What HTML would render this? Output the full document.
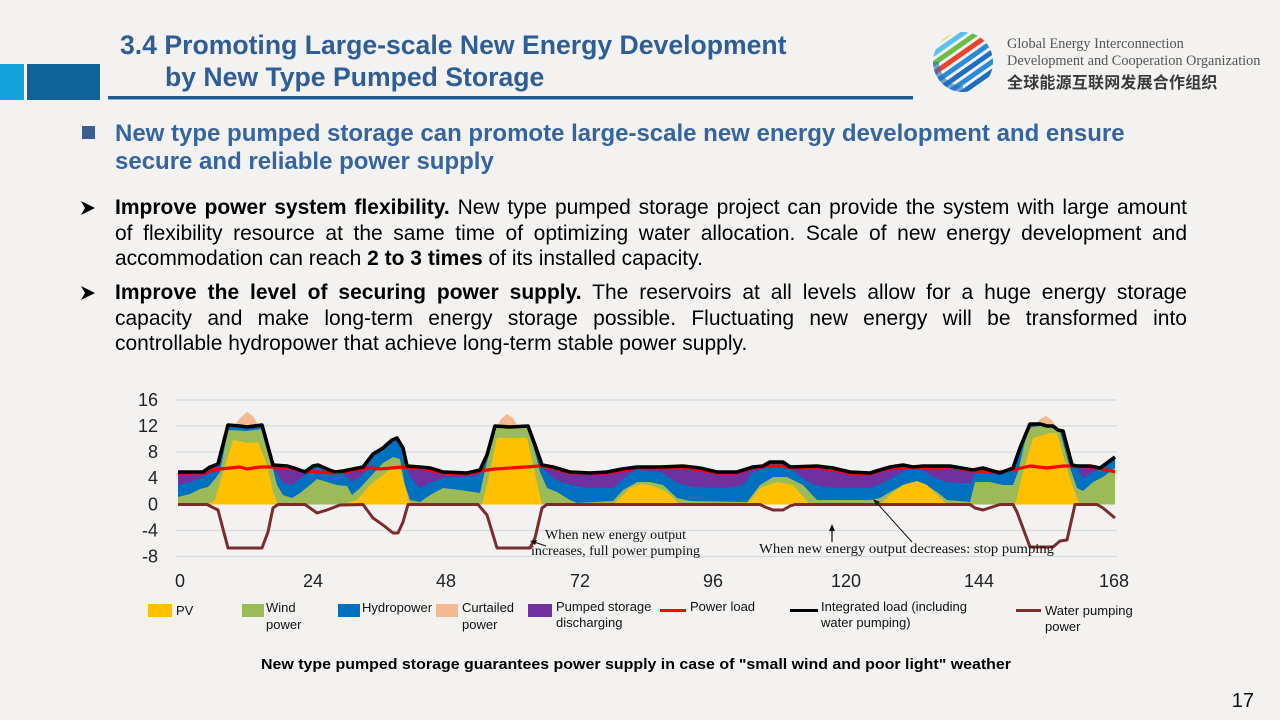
<!DOCTYPE html>
<html>
<head>
<meta charset="utf-8">
<style>
  html,body{margin:0;padding:0;}
  body{width:1280px;height:720px;position:relative;overflow:hidden;background:#F3F2F0;font-family:"Liberation Sans",Arial,sans-serif;}
  .abs{position:absolute;}
  .title{color:#2E5E95;font-weight:bold;font-size:26.6px;white-space:nowrap;line-height:30px;}
  .head{color:#3565A0;font-weight:bold;font-size:24px;white-space:nowrap;line-height:28px;}
  .para{left:115px;width:1072px;font-size:21px;color:#000;line-height:25.5px;}
  .jl{text-align:justify;text-align-last:justify;white-space:nowrap;height:25.5px;}
  .ll{white-space:nowrap;height:25.5px;}
</style>
</head>
<body>
<!-- header blocks -->
<div class="abs" style="left:0;top:64px;width:24px;height:36px;background:#15A3DB;"></div>
<div class="abs" style="left:27px;top:64px;width:73px;height:36px;background:#0F6399;"></div>
<div class="abs" style="left:108px;top:96px;width:805px;height:3px;background:#1F5A8C;"></div>
<div class="abs" style="left:108px;top:99px;width:805px;height:1px;background:#7FB4D8;"></div>
<div class="abs title" style="left:120px;top:30px;">3.4 Promoting Large-scale New Energy Development</div>
<div class="abs title" style="left:165px;top:62px;">by New Type Pumped Storage</div>

<!-- logo -->
<svg class="abs" style="left:926px;top:26px;" width="76" height="72" viewBox="0 0 76 72">
  <defs><clipPath id="gc"><circle cx="37" cy="36" r="30"/></clipPath></defs>
  <g clip-path="url(#gc)">
    <rect x="0" y="0" width="76" height="72" fill="#F3F2F0"/>
    <g transform="rotate(-35 37 36)">
      <rect x="-10" y="2" width="100" height="5" fill="#F2D400"/>
      <rect x="-10" y="10" width="100" height="5" fill="#5BC0EB"/>
      <rect x="-10" y="18" width="100" height="5" fill="#6BBE45"/>
      <rect x="-10" y="26" width="100" height="5" fill="#E8432E"/>
      <rect x="-10" y="34" width="100" height="5" fill="#2A8BD6"/>
      <rect x="-10" y="42" width="100" height="5" fill="#1E6FC0"/>
      <rect x="-10" y="50" width="100" height="5" fill="#2A8BD6"/>
      <rect x="-10" y="58" width="100" height="5" fill="#1E6FC0"/>
      <rect x="-10" y="66" width="100" height="5" fill="#2A8BD6"/>
    </g>
    <path d="M7,36 A30,30 0 0 0 37,66 L37,60 A24,24 0 0 1 13,36Z" fill="#1E6FC0" opacity="0.6"/>
  </g>
</svg>
<div class="abs" style="left:1007px;top:36px;font-family:'Liberation Serif',serif;font-size:14.3px;color:#555;white-space:nowrap;line-height:17px;">Global Energy Interconnection<br>Development and Cooperation Organization</div>
<div class="abs" style="left:1007px;top:69px;font-family:'Liberation Sans','Noto Sans CJK SC',sans-serif;font-size:16px;font-weight:bold;color:#3a3a3a;white-space:nowrap;letter-spacing:0.2px;">全球能源互联网发展合作组织</div>

<!-- heading bullet -->
<div class="abs" style="left:82px;top:126px;width:13px;height:13px;background:#3A5F8F;"></div>
<div class="abs head" style="left:115px;top:120px;">New type pumped storage can promote large-scale new energy development and ensure</div>
<div class="abs head" style="left:115px;top:148px;">secure and reliable power supply</div>

<!-- paragraphs -->
<svg class="abs" style="left:0;top:0;" width="120" height="320">
  <polygon points="81,201 95,208 81,215 85,208" fill="#000"/>
  <polygon points="81,286 95,293 81,300 85,293" fill="#000"/>
</svg>
<div class="abs para" style="top:195px;">
  <div class="jl"><b>Improve power system flexibility.</b> New type pumped storage project can provide the system with large amount</div>
  <div class="jl">of flexibility resource at the same time of optimizing water allocation. Scale of new energy development and</div>
  <div class="ll">accommodation can reach <b>2 to 3 times</b> of its installed capacity.</div>
</div>
<div class="abs para" style="top:280px;">
  <div class="jl"><b>Improve the level of securing power supply.</b> The reservoirs at all levels allow for a huge energy storage</div>
  <div class="jl">capacity and make long-term energy storage possible. Fluctuating new energy will be transformed into</div>
  <div class="ll">controllable hydropower that achieve long-term stable power supply.</div>
</div>

<!-- chart -->
<svg class="abs" style="left:0;top:0;" width="1280" height="720" viewBox="0 0 1280 720">
  <g stroke="#D9D9D9" stroke-width="1.3">
    <line x1="176" y1="400" x2="1117" y2="400"/>
    <line x1="176" y1="426" x2="1117" y2="426"/>
    <line x1="176" y1="452" x2="1117" y2="452"/>
    <line x1="176" y1="478" x2="1117" y2="478"/>
    <line x1="176" y1="530.5" x2="1117" y2="530.5"/>
    <line x1="176" y1="556.5" x2="1117" y2="556.5"/>
  </g>
  <g font-family="Liberation Sans, Arial, sans-serif" font-size="18" fill="#222" text-anchor="end">
    <text x="158" y="406">16</text>
    <text x="158" y="432">12</text>
    <text x="158" y="458">8</text>
    <text x="158" y="484">4</text>
    <text x="158" y="510.5">0</text>
    <text x="158" y="536.5">-4</text>
    <text x="158" y="562.5">-8</text>
  </g>
  <g font-family="Liberation Sans, Arial, sans-serif" font-size="18" fill="#222" text-anchor="middle">
    <text x="180" y="587">0</text>
    <text x="313" y="587">24</text>
    <text x="446" y="587">48</text>
    <text x="580" y="587">72</text>
    <text x="713" y="587">96</text>
    <text x="846" y="587">120</text>
    <text x="979" y="587">144</text>
    <text x="1114" y="587">168</text>
  </g>

  <!-- curtailed -->
  <g fill="#F4B990">
    <polygon points="233,428 240,418 247,412 253,416 260,428"/>
    <polygon points="496,428 501,419 507,414 513,418 519,428"/>
    <polygon points="1034,427 1040,419 1046,416 1052,420 1057,428"/>
  </g>

  <!-- purple (top = integrated load) -->
  <polygon fill="#7030A0" points="178,472 190,472 203,472 210,467 218,464 228,425 240,426 247,427 262,425 273,465 287,466 297,469 305,472 313,466 318,465 327,469 335,472 343,471 353,469 363,467 373,454 383,448 392,440 397,438 403,448 407,466 420,467 430,468 443,472 467,473 480,470 487,455 495,426 510,427 528,426 535,445 542,465 553,467 570,472 590,473 607,472 622,469 637,467 660,467 683,466 700,468 717,472 737,472 753,467 763,466 770,462 783,462 790,467 817,466 833,468 850,472 870,473 883,469 890,467 903,465 913,467 923,466 950,466 973,470 983,468 1000,473 1013,468 1020,448 1030,424 1040,424 1047,426 1053,426 1058,430 1063,431 1072,465 1077,466 1090,466 1100,468 1107,463 1115,457 1115,504.5 178,504.5"/>
  <!-- blue hydro -->
  <polygon fill="#0070C0" points="178,485 190,482 203,477 212,472 218,466 228,427 262,427 270,450 275,470 283,483 292,485 300,479 307,473 313,467 318,466 327,470 335,473 343,473 352,482 360,477 367,468 373,455 383,449 392,441 397,439 403,449 407,468 410,477 420,488 430,483 443,478 460,477 477,476 482,471 487,456 495,427 528,427 535,446 543,468 553,478 560,482 573,485 587,488 613,488 627,475 637,470 650,471 663,473 677,483 693,487 727,488 743,485 753,472 763,468 770,463 783,463 790,468 800,476 810,483 823,487 840,488 870,488 883,483 893,477 903,472 910,468 920,469 933,477 947,482 960,483 971,483 975,472 983,469 1000,474 1013,469 1020,449 1030,425 1063,432 1072,466 1077,467 1083,478 1093,472 1100,469 1107,464 1115,458 1115,504.5 178,504.5"/>
  <!-- green wind -->
  <polygon fill="#9BBB59" points="178,497 190,494 200,489 208,487 215,479 220,472 228,430 247,431 262,429 267,442 272,465 277,485 283,495 292,498 300,493 310,485 317,479 327,482 337,485 347,486 352,495 360,488 370,477 383,463 393,457 400,459 405,485 410,500 420,502 430,495 443,488 460,490 480,493 485,470 495,428 527,428 533,445 540,472 547,488 557,492 570,500 577,503 613,501 623,490 637,482 650,482 663,485 677,498 690,501 747,502 760,485 773,477 787,477 803,485 817,500 840,500 870,500 880,498 890,492 903,485 913,482 923,483 937,492 947,500 970,502 975,482 990,482 1003,485 1013,485 1018,472 1028,428 1040,426 1053,427 1060,432 1070,468 1077,488 1083,491 1093,482 1103,477 1115,468 1115,504.5 178,504.5"/>
  <!-- yellow PV -->
  <polygon fill="#FFC000" points="178,504.5 207,504.5 215,500 223,472 233,440 247,443 258,442 267,465 273,492 278,504.5 343,504.5 350,502 357,500 370,485 383,475 393,467 400,469 405,487 410,504.5 482,504.5 487,485 497,438 510,438 527,438 533,465 542,504.5 613,504.5 623,495 630,488 640,484 650,485 667,492 680,504.5 747,504.5 760,488 777,482 793,485 810,504.5 880,504.5 890,495 903,485 917,481 927,485 937,495 947,504.5 1015,504.5 1023,472 1033,438 1050,433 1057,433 1063,455 1072,485 1080,504.5 1115,504.5"/>

  <!-- water pumping -->
  <polyline fill="none" stroke="#7B2C2C" stroke-width="3" stroke-linejoin="round" points="178,504.5 207,504.5 218,510 228,548 262,548 268,532 273,508 278,504.5 305,504.5 310,508 317,513 327,510 340,505 363,504.5 373,518 383,525 393,533 398,533 403,522 408,504.5 478,504.5 487,515 497,548 530,548 535,538 542,508 547,504.5 760,504.5 765,507 773,510 783,510 790,506 795,504.5 970,504.5 975,508 983,510 1000,504.5 1013,504.5 1017,512 1030,547 1053,547 1060,541 1067,540 1075,504.5 1097,504.5 1103,508 1115,518"/>
  <!-- power load -->
  <polyline fill="none" stroke="#FF0000" stroke-width="3.2" stroke-linejoin="round" points="178,473 203,473 210,471 220,469 240,467 247,469 260,467 273,467 290,468 303,471 320,472 333,473 343,472 363,469 370,468 380,469 403,467 420,468 443,473 467,474 480,471 495,469 510,468 525,467 540,466 553,468 570,473 607,473 637,468 683,467 717,473 737,473 753,468 770,466 783,466 790,468 817,467 850,473 870,474 890,468 950,467 973,471 1000,472 1017,469 1030,466 1047,468 1063,466 1077,466 1090,467 1103,469 1115,472"/>
  <!-- integrated load -->
  <polyline fill="none" stroke="#000" stroke-width="3.6" stroke-linejoin="round" points="178,472 190,472 203,472 210,467 218,464 228,425 240,426 247,427 262,425 273,465 287,466 297,469 305,472 313,466 318,465 327,469 335,472 343,471 353,469 363,467 373,454 383,448 392,440 397,438 403,448 407,466 420,467 430,468 443,472 467,473 480,470 487,455 495,426 510,427 528,426 535,445 542,465 553,467 570,472 590,473 607,472 622,469 637,467 660,467 683,466 700,468 717,472 737,472 753,467 763,466 770,462 783,462 790,467 817,466 833,468 850,472 870,473 883,469 890,467 903,465 913,467 923,466 950,466 973,470 983,468 1000,473 1013,468 1020,448 1030,424 1040,424 1047,426 1053,426 1058,430 1063,431 1072,465 1077,466 1090,466 1100,468 1107,463 1115,457"/>

  <!-- annotations -->
  <g font-family="Liberation Serif, Times New Roman, serif" font-size="14" fill="#111">
    <text x="545" y="539" textLength="141" lengthAdjust="spacingAndGlyphs">When new energy output</text>
    <text x="531" y="555" textLength="169" lengthAdjust="spacingAndGlyphs">increases, full power pumping</text>
    <text x="759" y="553" textLength="295" lengthAdjust="spacingAndGlyphs">When new energy output decreases: stop pumping</text>
  </g>
  <line x1="546" y1="546" x2="534" y2="542" stroke="#111" stroke-width="1"/>
  <polygon points="530,541 537,540 535,545" fill="#111"/>
  <line x1="832" y1="542" x2="832" y2="530" stroke="#111" stroke-width="1.2"/>
  <polygon points="832,524 829,531 835,531" fill="#111"/>
  <line x1="912" y1="542" x2="876" y2="502" stroke="#111" stroke-width="1"/>
  <polygon points="873,499 880,502 876,505" fill="#111"/>

  <!-- legend -->
  <rect x="148" y="604" width="24" height="13" fill="#FFC000"/>
  <rect x="242" y="604" width="22" height="13" fill="#9BBB59"/>
  <rect x="338" y="604" width="22" height="13" fill="#0070C0"/>
  <rect x="436" y="604" width="22" height="13" fill="#F4B990"/>
  <rect x="528" y="604" width="24" height="13" fill="#7030A0"/>
  <line x1="660" y1="610.5" x2="686" y2="610.5" stroke="#FF0000" stroke-width="3"/>
  <line x1="790" y1="610.5" x2="818" y2="610.5" stroke="#000" stroke-width="3"/>
  <line x1="1016" y1="610.5" x2="1041" y2="610.5" stroke="#7B2C2C" stroke-width="3"/>
  <g font-family="Liberation Sans, Arial, sans-serif" font-size="13" fill="#111">
    <text x="176" y="615">PV</text>
    <text x="266" y="612">Wind</text>
    <text x="266" y="629">power</text>
    <text x="362" y="612">Hydropower</text>
    <text x="462" y="612">Curtailed</text>
    <text x="462" y="629">power</text>
    <text x="556" y="611">Pumped storage</text>
    <text x="556" y="627">discharging</text>
    <text x="690" y="611">Power load</text>
    <text x="821" y="611">Integrated load (including</text>
    <text x="821" y="627">water pumping)</text>
    <text x="1045" y="615">Water pumping</text>
    <text x="1045" y="631">power</text>
  </g>
  <text x="636" y="669" text-anchor="middle" font-family="Liberation Sans, Arial, sans-serif" font-size="14.5" font-weight="bold" fill="#000" textLength="750" lengthAdjust="spacingAndGlyphs">New type pumped storage guarantees power supply in case of "small wind and poor light" weather</text>
  <text x="1254" y="707" text-anchor="end" font-family="Liberation Sans, Arial, sans-serif" font-size="20" fill="#111">17</text>
</svg>
</body>
</html>
